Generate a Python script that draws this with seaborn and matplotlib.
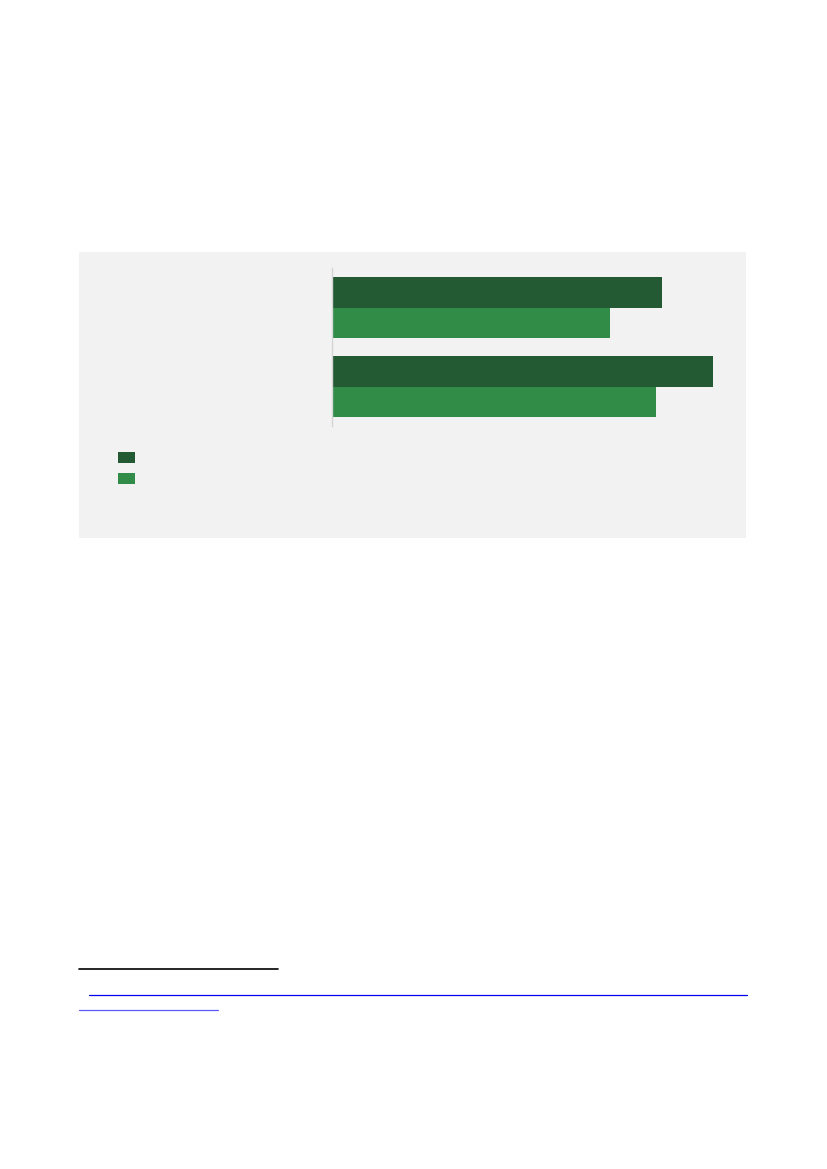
import matplotlib

matplotlib.use("Agg")
import matplotlib.pyplot as plt
import numpy as np
import pandas as pd
import seaborn as sns
from matplotlib.lines import Line2D
from matplotlib.patches import Patch, Rectangle

# values (arbitrary units, read as bar lengths off the page)
categories = ["A", "B"]
series_names = ["dark", "light"]
dark_values = [330, 381]
light_values = [278, 324]
colors = ["#235a33", "#318c48"]

W, H = 827, 1169


def fx(px):
    return px / W


def fy(py):
    return 1 - py / H


df = pd.DataFrame(
    {
        "category": categories * 2,
        "series": [series_names[0]] * 2 + [series_names[1]] * 2,
        "value": dark_values + light_values,
    }
)

sns.set_style("white")
fig = plt.figure(figsize=(W / 100, H / 100), dpi=100)
fig.patch.set_facecolor("white")

# grey panel behind the chart
fig.patches.append(
    Rectangle(
        (fx(79), fy(538)),
        fx(746) - fx(79),
        fy(252) - fy(538),
        transform=fig.transFigure,
        facecolor="#f2f2f2",
        edgecolor="none",
        zorder=-5,
    )
)

ax = fig.add_axes([fx(332), fy(426), fx(732) - fx(332), fy(268) - fy(426)])
ax.set_zorder(2)
sns.barplot(
    data=df,
    y="category",
    x="value",
    hue="series",
    orient="h",
    palette=colors,
    width=0.76,
    edgecolor="none",
    linewidth=0,
    saturation=1,
    ax=ax,
    legend=False,
)
ax.set_xlim(0, 400)
ax.set_ylim(1.5, -0.5)
ax.set_facecolor("none")
ax.set_xlabel("")
ax.set_ylabel("")
ax.set_xticks([])
ax.set_yticks([])
for s in ["top", "right", "bottom"]:
    ax.spines[s].set_visible(False)
ax.spines["left"].set_color("#d4d4d4")
ax.spines["left"].set_linewidth(1)

# legend swatches without text, as in the reference
handles = [Patch(facecolor=c, edgecolor="none") for c in colors]
fig.legend(
    handles,
    ["", ""],
    loc="upper left",
    bbox_to_anchor=(fx(111), fy(444)),
    frameon=False,
    handlelength=1.22,
    handleheight=0.86,
    labelspacing=0.55,
    borderpad=0,
    handletextpad=0,
)

# footnote rules at the bottom of the page
fig.add_artist(Line2D([fx(79), fx(278)], [fy(969), fy(969)], color="black", lw=1.2))
fig.add_artist(Line2D([fx(89), fx(747)], [fy(995), fy(995)], color="#0000ee", lw=0.9))
fig.add_artist(Line2D([fx(79), fx(218)], [fy(1010), fy(1010)], color="#5a5aff", lw=0.9))

fig.savefig("out.png", dpi=100)
